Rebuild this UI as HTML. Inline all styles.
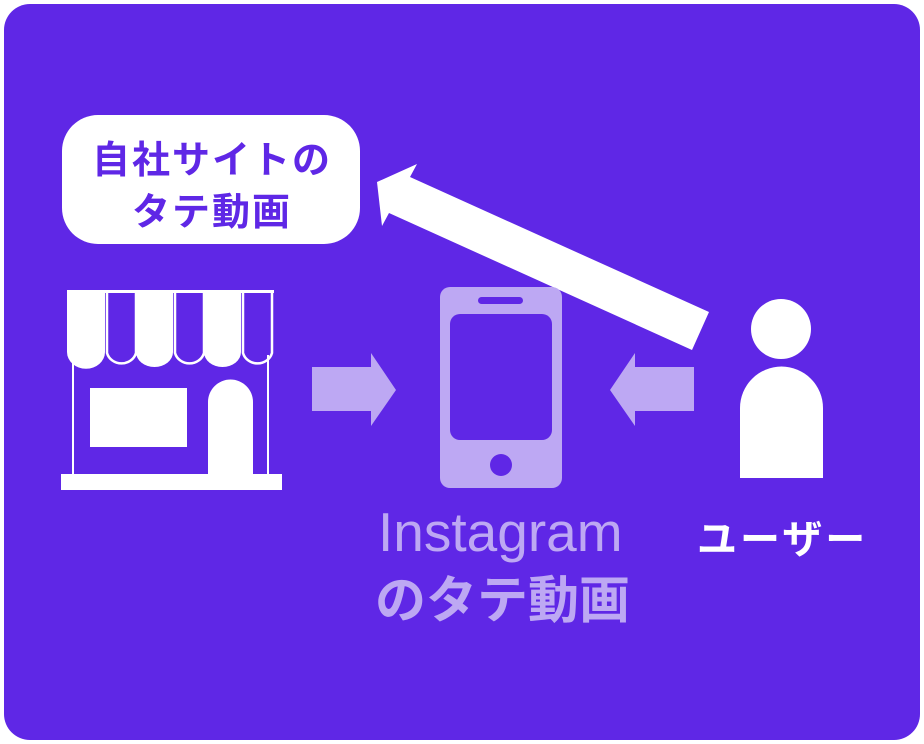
<!DOCTYPE html>
<html><head><meta charset="utf-8"><style>
html,body{margin:0;padding:0;background:#fff;}
body{width:924px;height:744px;position:relative;overflow:hidden;font-family:"Liberation Sans","Noto Sans CJK JP",sans-serif;}
.bg{position:absolute;left:4px;top:4px;width:916px;height:736px;background:#5f27e6;border-radius:26px;}
.t{position:absolute;font-weight:bold;white-space:nowrap;line-height:1;}
</style></head><body>
<div class="bg"></div>
<svg width="924" height="744" style="position:absolute;left:0;top:0">
  <rect x="62" y="115" width="298" height="129" rx="36" fill="#fff"/>
  <polygon points="377,182 417,164 410,177 709,312 692,350 389,213 382,226" fill="#fff"/>
  <g fill="#fff">
    <rect x="61" y="474" width="221" height="16"/>
    <rect x="72" y="355" width="2" height="120"/>
    <rect x="267" y="355" width="2" height="120"/>
    <rect x="90" y="388" width="97" height="59"/>
    <path d="M208,474 V402 a22.5,22.5 0 0 1 45,0 V474 Z"/>
    <rect x="67" y="290" width="207" height="3"/>
    <path d="M67,290 H105 V352 A17,15 0 0 1 67,352 Z"/>
    <path d="M136,290 H173 V352 A18.5,15 0 0 1 136,352 Z"/>
    <path d="M204,290 H241 V352 A18.5,15 0 0 1 204,352 Z"/>
  </g>
  <g fill="none" stroke="#fff" stroke-width="2.5">
    <path d="M107,292 V353 A15,14 0 0 0 136,353 V292"/>
    <path d="M175,292 V353 A15,14 0 0 0 204,353 V292"/>
    <path d="M243,292 V353 A15,14 0 0 0 272,353 V292"/>
  </g>
  <polygon points="312,367 371,367 371,353 396,390 371,426 371,411 312,411" fill="#bda8f3"/>
  <polygon points="694,367 635,367 635,353 610,390 635,426 635,411 694,411" fill="#bda8f3"/>
  <rect x="440" y="287" width="122" height="201" rx="10" fill="#bda8f3"/>
  <rect x="450" y="314" width="102" height="126" rx="10" fill="#5f27e6"/>
  <rect x="478" y="297" width="45" height="7" rx="3.5" fill="#5f27e6"/>
  <circle cx="501" cy="465" r="11" fill="#5f27e6"/>
  <circle cx="781" cy="329" r="30" fill="#fff"/>
  <path d="M740,478 V408 a41.5,41.5 0 0 1 83,0 V478 Z" fill="#fff"/>
</svg>
<div class="t" style="left:92px;top:142px;font-size:38px;color:#5f27e6;letter-spacing:2px">自社サイトの</div>
<div class="t" style="left:132px;top:194px;font-size:38px;color:#5f27e6;letter-spacing:2px">タテ動画</div>
<div class="t" style="left:378px;top:505px;font-size:55px;color:#bda8f3;font-weight:normal;">Instagram</div>
<div class="t" style="left:375px;top:575px;font-size:51px;color:#bda8f3;">のタテ動画</div>
<div class="t" style="left:697px;top:520px;font-size:40px;color:#fff;letter-spacing:3px">ユーザー</div>
</body></html>
